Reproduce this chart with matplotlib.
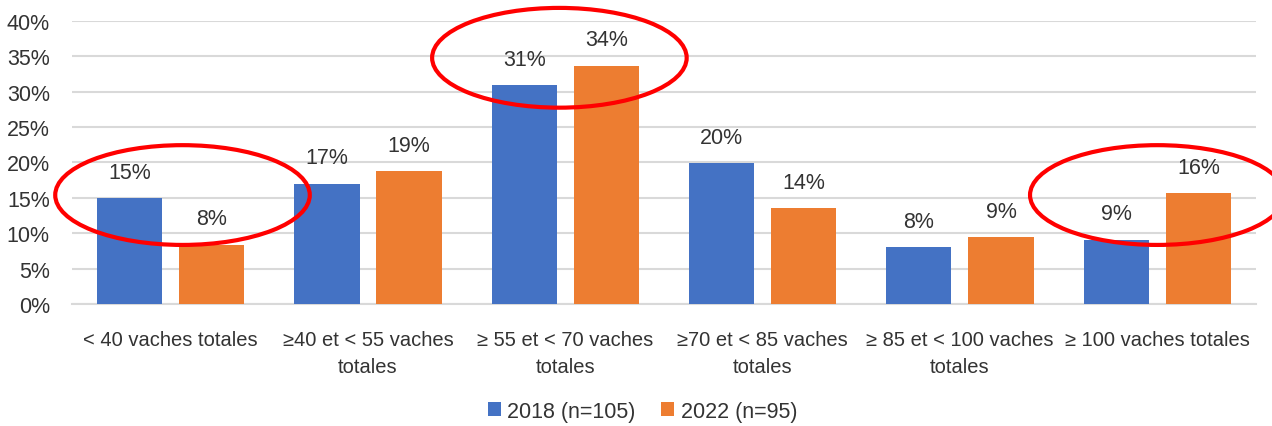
import matplotlib.pyplot as plt
import numpy as np
from matplotlib.patches import Ellipse
from matplotlib import font_manager

# Données
categories = ["< 40 vaches totales", "≥40 et < 55 vaches\ntotales",
              "≥ 55 et < 70 vaches\ntotales", "≥70 et < 85 vaches\ntotales",
              "≥ 85 et < 100 vaches\ntotales", "≥ 100 vaches totales"]
val_2018 = [15.0, 17.0, 30.9, 19.9, 8.0, 9.1]
val_2022 = [8.4, 18.8, 33.7, 13.6, 9.4, 15.7]
lab_2018 = ["15%", "17%", "31%", "20%", "8%", "9%"]
lab_2022 = ["8%", "19%", "34%", "14%", "9%", "16%"]
series = ["2018 (n=105)", "2022 (n=95)"]
highlight = [0, 2, 5]

names = {f.name for f in font_manager.fontManager.ttflist}
fam = ['Liberation Sans Narrow'] if 'Liberation Sans Narrow' in names else ['Liberation Sans']
plt.rcParams['font.family'] = fam + ['DejaVu Sans']
txt = '#333333'

fig = plt.figure(figsize=(12.72, 4.27), dpi=100)
ax = fig.add_axes([0.0566, 0.2857, 0.9308, 0.6628])

x = np.arange(len(categories))
w = 0.33
off = 0.208
b1 = ax.bar(x - off, val_2018, w, color='#4472C4', label=series[0], zorder=3)
b2 = ax.bar(x + off, val_2022, w, color='#ED7D31', label=series[1], zorder=3)

for bars, labs in [(b1, lab_2018), (b2, lab_2022)]:
    for b, t in zip(bars, labs):
        ax.annotate(t, (b.get_x() + b.get_width() / 2, b.get_height()),
                    xytext=(0, 11), textcoords='offset points',
                    ha='center', va='bottom', fontsize=15.5, color=txt)

ax.set_xlim(-0.5, 5.5)
ax.set_ylim(0, 40)
ax.set_yticks(range(0, 41, 5))
ax.set_yticklabels([f"{v}%" for v in range(0, 41, 5)], fontsize=15.5, color=txt)
ax.set_xticks(x)
ax.set_xticklabels(categories, fontsize=14.5, color=txt, linespacing=1.5)
ax.tick_params(axis='both', length=0)
ax.tick_params(axis='y', pad=16)
ax.tick_params(axis='x', pad=19)
ax.yaxis.grid(True, color='#d9d9d9', linewidth=1.5, zorder=0)
for s in ['top', 'right', 'left']:
    ax.spines[s].set_visible(False)
ax.spines['bottom'].set_color('#d9d9d9')
ax.spines['bottom'].set_linewidth(1.5)

# Ellipses rouges de mise en évidence
for i in highlight:
    cy = 15.4 if i != 2 else 34.8
    cx = i + (0.06 if i == 0 else (-0.03 if i == 2 else 0.0))
    ax.add_patch(Ellipse((cx, cy), 1.29, 14.1, fill=False, edgecolor='#ff0000',
                         linewidth=3, clip_on=False, zorder=5))

fig.legend(loc='lower center', bbox_to_anchor=(0.505, -0.035), ncol=2, frameon=False,
           fontsize=15.5, handlelength=0.6, handleheight=0.6, handletextpad=0.3,
           columnspacing=1.2, labelcolor=txt)

fig.savefig('out.png', dpi=100)
